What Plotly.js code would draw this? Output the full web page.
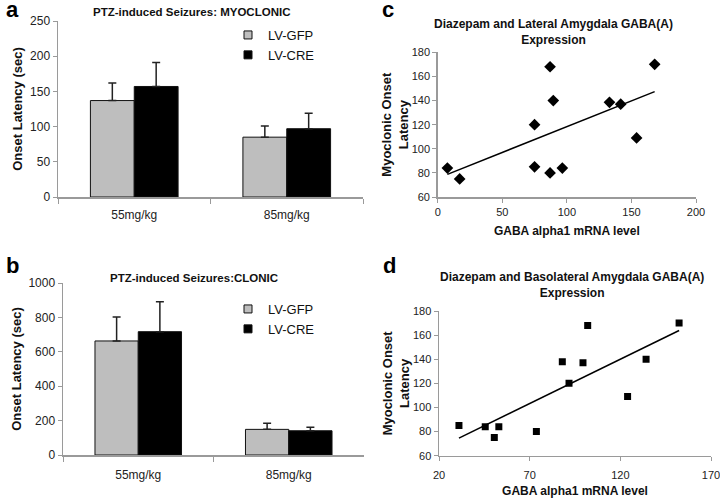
<!DOCTYPE html>
<html><head><meta charset="utf-8">
<script src="https://cdn.plot.ly/plotly-3.0.1.min.js"></script>
<style>html,body{margin:0;padding:0;background:#fff}</style>
</head><body><div id="chart" style="width:720px;height:498px"></div>
<script>
// ---- data ----
const doses = ['55mg/kg', '85mg/kg'];
const seriesNames = ['LV-GFP', 'LV-CRE'];
const myoGFP = [137, 85];
const myoGFPerr = [25, 16];
const myoCRE = [157, 97];
const myoCREerr = [34, 22];
const cloGFP = [663, 149];
const cloGFPerr = [139, 35];
const cloCRE = [717, 141];
const cloCREerr = [174, 20];
const latX = [7.5, 17, 75, 75, 87, 87, 89.5, 96.5, 133, 141.7, 154, 168];
const latY = [84, 75, 120, 85, 168, 80, 140, 84, 138.5, 137, 109, 170];
const blaX = [31, 45.5, 50.5, 53, 73.7, 88, 91.7, 99.4, 102, 124, 134.2, 152.4];
const blaY = [85, 84, 75, 84, 80, 138, 120, 137, 168, 109, 140, 170];
const blaTicks = [20, 70, 120, 170];

// ---- helpers ----
function fit(x, y) {
  const n = x.length;
  const mx = x.reduce((a, b) => a + b, 0) / n;
  const my = y.reduce((a, b) => a + b, 0) / n;
  let sxy = 0, sxx = 0;
  for (let i = 0; i < n; i++) { sxy += (x[i] - mx) * (y[i] - my); sxx += (x[i] - mx) ** 2; }
  const m = sxy / sxx, b = my - m * mx;
  const x0 = Math.min(...x), x1 = Math.max(...x);
  return { x: [x0, x1], y: [b + m * x0, b + m * x1] };
}
const FAM = 'Liberation Sans, Arial, sans-serif';
const GRAY = '#bebebe';
const AX = '#9a9a9a';
const errStyle = c => ({ type: 'data', symmetric: false, array: c, arrayminus: c.map(() => 0), color: '#222', thickness: 1.5, width: 4 });

function bar(y, err, color, xa, ya) {
  return { type: 'bar', x: doses, y: y, xaxis: xa, yaxis: ya, showlegend: false,
    marker: { color: color, line: { color: '#111', width: 1 } }, error_y: errStyle(err), hoverinfo: 'skip' };
}
function legendKey(name, color, legend, xa, ya) {
  return { type: 'scatter', mode: 'markers', x: [null], y: [null], xaxis: xa, yaxis: ya, name: name, legend: legend,
    marker: { symbol: 'square', size: 8, color: color, line: { color: '#111', width: 1 } } };
}

const fitLat = fit(latX, latY);
const fitBla = fit(blaX, blaY);

const traces = [
  bar(myoGFP, myoGFPerr, GRAY, 'x', 'y'),
  bar(myoCRE, myoCREerr, '#000', 'x', 'y'),
  legendKey(seriesNames[0], GRAY, 'legend', 'x', 'y'),
  legendKey(seriesNames[1], '#000', 'legend', 'x', 'y'),
  bar(cloGFP, cloGFPerr, GRAY, 'x2', 'y2'),
  bar(cloCRE, cloCREerr, '#000', 'x2', 'y2'),
  legendKey(seriesNames[0], GRAY, 'legend2', 'x2', 'y2'),
  legendKey(seriesNames[1], '#000', 'legend2', 'x2', 'y2'),
  { type: 'scatter', mode: 'markers', x: latX, y: latY, xaxis: 'x3', yaxis: 'y3', showlegend: false,
    marker: { symbol: 'diamond', size: 9, color: '#000' } },
  { type: 'scatter', mode: 'lines', x: fitLat.x, y: fitLat.y, xaxis: 'x3', yaxis: 'y3', showlegend: false,
    line: { color: '#000', width: 1.5 } },
  { type: 'scatter', mode: 'markers', x: blaX, y: blaY, xaxis: 'x4', yaxis: 'y4', showlegend: false,
    marker: { symbol: 'square', size: 7, color: '#000' } },
  { type: 'scatter', mode: 'lines', x: fitBla.x, y: fitBla.y, xaxis: 'x4', yaxis: 'y4', showlegend: false,
    line: { color: '#000', width: 1.5 } }
];

const W = 720, H = 498;
const px = v => v / W;
const py = v => 1 - v / H;
const tickFontBar = { family: FAM, size: 12, color: '#222' };
const tickFontSc = { family: FAM, size: 11, color: '#222' };
const titleFont = s => ({ family: FAM, size: s, color: '#111', weight: 'bold' });

function baseAx(extra) {
  return Object.assign({ showline: true, linecolor: AX, linewidth: 1.5, ticks: 'outside', ticklen: 4,
    tickcolor: AX, tickwidth: 1, showgrid: false, zeroline: false, fixedrange: true, automargin: false }, extra);
}
function ann(text, x, y, font) {
  return { text: text, x: px(x), y: py(y), xref: 'paper', yref: 'paper', xanchor: 'center', yanchor: 'middle', showarrow: false, borderpad: 0, font: font };
}
const letterFont = { family: FAM, size: 22, weight: 'bold', color: '#000' };

const layout = {
  width: W, height: H, margin: { l: 0, r: 0, t: 0, b: 0 },
  paper_bgcolor: '#fff', plot_bgcolor: '#fff',
  barmode: 'group', bargap: 0.425, bargroupgap: 0,
  showlegend: true,
  font: { family: FAM, color: '#222' },
  xaxis: baseAx({ domain: [px(58), px(363)], anchor: 'y', type: 'category', range: [-0.5, 1.5], tickson: 'boundaries', ticklen: 5, ticklabelstandoff: 6, tickfont: tickFontBar }),
  yaxis: baseAx({ domain: [py(197), py(21)], anchor: 'x', range: [0, 250], dtick: 50, tickfont: tickFontBar,
    title: { text: 'Onset Latency (sec)', font: titleFont(13), standoff: 4 } }),
  xaxis2: baseAx({ domain: [px(63), px(364)], anchor: 'y2', type: 'category', range: [-0.5, 1.5], tickson: 'boundaries', ticklen: 5, ticklabelstandoff: 8, tickfont: tickFontBar }),
  yaxis2: baseAx({ domain: [py(455), py(283)], anchor: 'x2', range: [0, 1000], dtick: 200, tickfont: tickFontBar,
    title: { text: 'Onset Latency (sec)', font: titleFont(13), standoff: 4 } }),
  xaxis3: baseAx({ domain: [px(437.7), px(696)], anchor: 'y3', range: [0, 200], tick0: 0, dtick: 50, tickfont: tickFontSc,
    title: { text: 'GABA alpha1 mRNA level', font: titleFont(12), standoff: 10 } }),
  yaxis3: baseAx({ domain: [py(197), py(52.3)], anchor: 'x3', range: [60, 180], dtick: 20, tickfont: tickFontSc,
    title: { text: 'Myoclonic Onset<br>Latency', font: titleFont(13), standoff: 0 } }),
  xaxis4: baseAx({ domain: [px(439), px(711)], anchor: 'y4', range: [20, 170], tickmode: 'array', tickvals: blaTicks, ticktext: blaTicks.map(String), ticklabeloverflow: 'allow', ticklabelstandoff: 5, tickfont: tickFontSc,
    title: { text: 'GABA alpha1 mRNA level', font: titleFont(12), standoff: 7 } }),
  yaxis4: baseAx({ domain: [py(455.7), py(311)], anchor: 'x4', range: [60, 180], dtick: 20, tickfont: tickFontSc,
    title: { text: 'Myoclonic Onset<br>Latency', font: titleFont(13), standoff: 0 } }),
  legend: { x: px(228), y: py(20), xanchor: 'left', yanchor: 'top', bgcolor: 'rgba(0,0,0,0)',
    font: { family: FAM, size: 13, color: '#111' }, itemwidth: 30, tracegroupgap: 0 },
  legend2: { x: px(228), y: py(294), xanchor: 'left', yanchor: 'top', bgcolor: 'rgba(0,0,0,0)',
    font: { family: FAM, size: 13, color: '#111' }, itemwidth: 30, tracegroupgap: 0 },
  annotations: [
    ann('a', 13, 9, letterFont),
    ann('b', 13, 265, letterFont),
    ann('c', 388, 9, letterFont),
    ann('d', 389, 265, letterFont),
    ann('PTZ-induced Seizures: MYOCLONIC', 191, 12, titleFont(11.5)),
    ann('PTZ-induced Seizures:CLONIC', 194, 278, titleFont(11.5)),
    ann('Diazepam and Lateral Amygdala GABA(A)<br>Expression', 553, 32, titleFont(12)),
    ann('Diazepam and Basolateral Amygdala GABA(A)<br>Expression', 572, 285, titleFont(12))
  ]
};

Plotly.newPlot('chart', traces, layout, { staticPlot: true, displayModeBar: false });
</script>
</body></html>
